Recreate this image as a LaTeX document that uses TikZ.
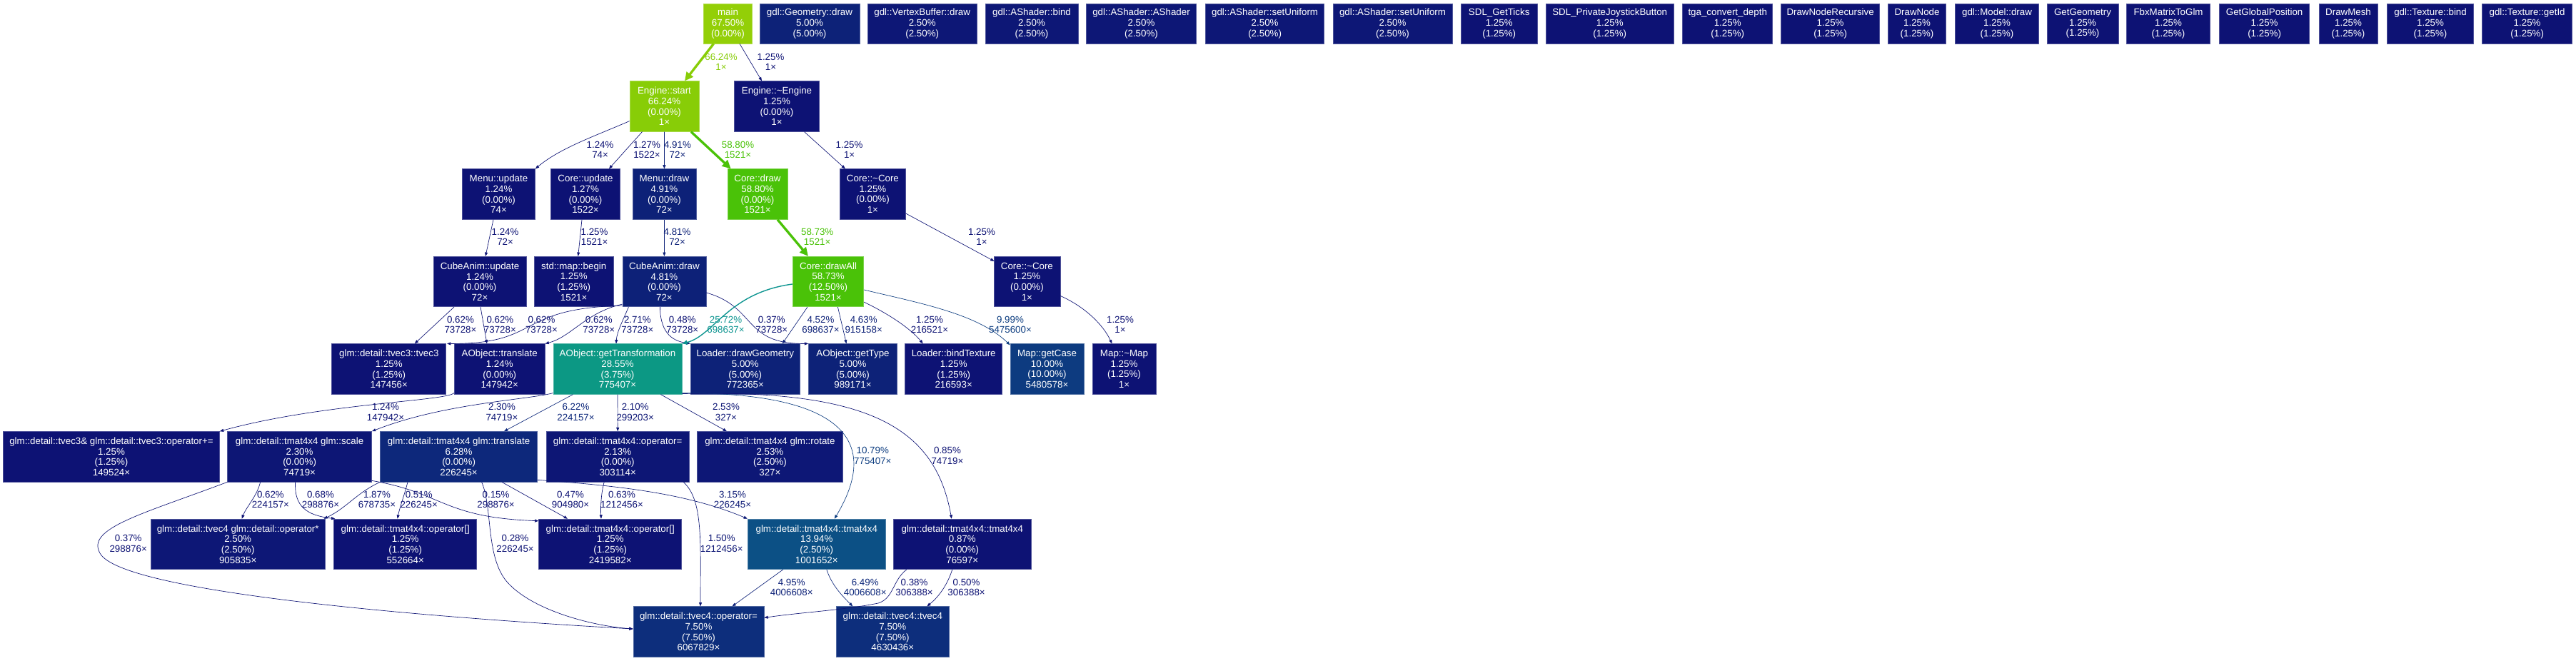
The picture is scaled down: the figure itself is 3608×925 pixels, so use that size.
\documentclass[tikz,border=0pt]{standalone}
\usepackage{fontspec}
\setmainfont{Liberation Sans}
\usetikzlibrary{arrows.meta,calc}
\definecolor{n1}{HTML}{0D1274}
\definecolor{n2}{HTML}{0D1675}
\definecolor{n25}{HTML}{0D1776}
\definecolor{n5b}{HTML}{0D2178}
\definecolor{n5}{HTML}{0D2278}
\definecolor{n6}{HTML}{0D287B}
\definecolor{n75}{HTML}{0D2E7C}
\definecolor{n10}{HTML}{0D3B80}
\definecolor{n14}{HTML}{0C5085}
\definecolor{n28}{HTML}{0C9884}
\definecolor{n58}{HTML}{4AC208}
\definecolor{n66}{HTML}{88CD07}
\definecolor{n67}{HTML}{93CF07}
\definecolor{c1}{HTML}{0D1274}
\definecolor{c2}{HTML}{0D1675}
\definecolor{c3}{HTML}{0D1A76}
\definecolor{c5}{HTML}{0D2178}
\definecolor{c6}{HTML}{0D287B}
\definecolor{c10}{HTML}{0D3D80}
\definecolor{e25}{HTML}{0C9490}
\definecolor{e58}{HTML}{4AC208}
\definecolor{e66}{HTML}{88CD07}
\tikzset{
  fn/.style 2 args={rectangle, fill=#1, draw=#1!72!white, line width=0.5pt, text=white, align=center, inner sep=0pt, minimum width=#2*0.75pt, minimum height=70.5*0.75pt, font=\fontsize{10}{11}\selectfont},
  fnt/.style 2 args={fn={#1}{#2}, minimum height=56*0.75pt},
  lab/.style={text=#1, align=center, inner sep=0pt, font=\fontsize{10}{11}\selectfont},
  ed/.style={draw=#1, line width=0.5pt, -{Triangle[length=4pt,width=3pt]}},
  edmid/.style={draw=#1, line width=1.03pt, -{Triangle[length=5.5pt,width=4.5pt]}},
  edbig/.style={draw=#1, line width=2.5pt, -{Triangle[length=9pt,width=8.5pt]}},
}
\begin{document}
\begin{tikzpicture}[x=0.75pt,y=-0.75pt]
\fill[white] (0,0) rectangle (3608,925);
\useasboundingbox (0,0) rectangle (3608,925);

% top row
\node[fnt={n67}{68}] (main) at (1019.5,33) {main\\67.50\%\\(0.00\%)};
\node[fnt={n5}{140}] (geo) at (1134,33) {gdl::Geometry::draw\\5.00\%\\(5.00\%)};
\node[fnt={n25}{153}] (vbuf) at (1291.7,33) {gdl::VertexBuffer::draw\\2.50\%\\(2.50\%)};
\node[fnt={n25}{130}] (bind) at (1445,33) {gdl::AShader::bind\\2.50\%\\(2.50\%)};
\node[fnt={n25}{154}] (ashader) at (1598.5,33) {gdl::AShader::AShader\\2.50\%\\(2.50\%)};
\node[fnt={n25}{166}] (setua) at (1771.6,33) {gdl::AShader::setUniform\\2.50\%\\(2.50\%)};
\node[fnt={n25}{167}] (setub) at (1950.5,33) {gdl::AShader::setUniform\\2.50\%\\(2.50\%)};
\node[fnt={n1}{107}] (ticks) at (2099.7,33) {SDL\_GetTicks\\1.25\%\\(1.25\%)};
\node[fnt={n1}{179}] (joy) at (2254.7,33) {SDL\_PrivateJoystickButton\\1.25\%\\(1.25\%)};
\node[fnt={n1}{126}] (tga) at (2419.7,33) {tga\_convert\_depth\\1.25\%\\(1.25\%)};
\node[fnt={n1}{138}] (dnr) at (2563.6,33) {DrawNodeRecursive\\1.25\%\\(1.25\%)};
\node[fnt={n1}{81}] (dn) at (2685,33) {DrawNode\\1.25\%\\(1.25\%)};
\node[fnt={n1}{117}] (model) at (2797,33) {gdl::Model::draw\\1.25\%\\(1.25\%)};
\node[fnt={n1}{100}] (getgeo) at (2917,33) {GetGeometry\\1.25\%\\(1.25\%)};
\node[fnt={n1}{117}] (fbx) at (3037,33) {FbxMatrixToGlm\\1.25\%\\(1.25\%)};
\node[fnt={n1}{126}] (ggp) at (3171.6,33) {GetGlobalPosition\\1.25\%\\(1.25\%)};
\node[fnt={n1}{82}] (mesh) at (3289,33) {DrawMesh\\1.25\%\\(1.25\%)};
\node[fnt={n1}{121}] (texbind) at (3404,33) {gdl::Texture::bind\\1.25\%\\(1.25\%)};
\node[fnt={n1}{126}] (texid) at (3539.6,33) {gdl::Texture::getId\\1.25\%\\(1.25\%)};

% row 2
\node[fn={n66}{97}] (start) at (930.5,149) {Engine::start\\66.24\%\\(0.00\%)\\1×};
\node[fn={n1}{119}] (edtor) at (1088,149) {Engine::\textasciitilde Engine\\1.25\%\\(0.00\%)\\1×};

% row 3
\node[fn={n1}{102}] (menuup) at (698.5,272) {Menu::update\\1.24\%\\(0.00\%)\\74×};
\node[fn={n1}{97}] (coreup) at (820,272) {Core::update\\1.27\%\\(0.00\%)\\1522×};
\node[fn={n5b}{89}] (menudraw) at (930.4,272) {Menu::draw\\4.91\%\\(0.00\%)\\72×};
\node[fn={n58}{84}] (coredraw) at (1061,272) {Core::draw\\58.80\%\\(0.00\%)\\1521×};
\node[fn={n1}{92}] (cdtora) at (1222.4,272) {Core::\textasciitilde Core\\1.25\%\\(0.00\%)\\1×};

% row 4
\node[fn={n1}{130}] (cubeup) at (672,394.5) {CubeAnim::update\\1.24\%\\(0.00\%)\\72×};
\node[fn={n1}{111}] (mapbegin) at (803.7,394.5) {std::map::begin\\1.25\%\\(1.25\%)\\1521×};
\node[fn={n5b}{117}] (cubedraw) at (930.4,394.5) {CubeAnim::draw\\4.81\%\\(0.00\%)\\72×};
\node[fn={n58}{99.5}] (drawall) at (1160,394.5) {Core::drawAll\\58.73\%\\(12.50\%)\\1521×};
\node[fn={n1}{93}] (cdtorb) at (1438.4,394.5) {Core::\textasciitilde Core\\1.25\%\\(0.00\%)\\1×};

% row 5
\node[fn={n1}{160}] (tvecthree) at (544.8,517) {glm::detail::tvec3::tvec3\\1.25\%\\(1.25\%)\\147456×};
\node[fn={n1}{127}] (translate) at (699.7,517) {AObject::translate\\1.24\%\\(0.00\%)\\147942×};
\node[fn={n28}{180}] (gettrans) at (865,517) {AObject::getTransformation\\28.55\%\\(3.75\%)\\775407×};
\node[fn={n5}{153.5}] (drawgeo) at (1043.8,517) {Loader::drawGeometry\\5.00\%\\(5.00\%)\\772365×};
\node[fn={n5}{124}] (gettype) at (1194.5,517) {AObject::getType\\5.00\%\\(5.00\%)\\989171×};
\node[fn={n1}{136}] (bindtex) at (1335.7,517) {Loader::bindTexture\\1.25\%\\(1.25\%)\\216593×};
\node[fn={n10}{103}] (getcase) at (1466.5,517) {Map::getCase\\10.00\%\\(10.00\%)\\5480578×};
\node[fn={n1}{89}] (mapdtor) at (1574.5,517) {Map::\textasciitilde Map\\1.25\%\\(1.25\%)\\1×};

% row 6
\node[fn={n1}{303}] (pluseq) at (156,639.8) {glm::detail::tvec3\& glm::detail::tvec3::operator+=\\1.25\%\\(1.25\%)\\149524×};
\node[fn={n2}{202}] (scale) at (419.6,639.8) {glm::detail::tmat4x4 glm::scale\\2.30\%\\(0.00\%)\\74719×};
\node[fn={n6}{220}] (gtrans) at (642.6,639.8) {glm::detail::tmat4x4 glm::translate\\6.28\%\\(0.00\%)\\226245×};
\node[fn={n2}{200}] (opassign) at (865.2,639.8) {glm::detail::tmat4x4::operator=\\2.13\%\\(0.00\%)\\303114×};
\node[fn={n25}{204}] (rotate) at (1078.4,639.8) {glm::detail::tmat4x4 glm::rotate\\2.53\%\\(2.50\%)\\327×};

% row 7
\node[fn={n25}{244}] (opmul) at (333.2,762.3) {glm::detail::tvec4 glm::detail::operator*\\2.50\%\\(2.50\%)\\905835×};
\node[fn={n1}{200}] (opidxa) at (567.7,762.3) {glm::detail::tmat4x4::operator[]\\1.25\%\\(1.25\%)\\552664×};
\node[fn={n1}{200}] (opidxb) at (854.7,762.3) {glm::detail::tmat4x4::operator[]\\1.25\%\\(1.25\%)\\2419582×};
\node[fn={n14}{193}] (tmata) at (1143.8,762.3) {glm::detail::tmat4x4::tmat4x4\\13.94\%\\(2.50\%)\\1001652×};
\node[fn={n1}{193}] (tmatb) at (1347.8,762.3) {glm::detail::tmat4x4::tmat4x4\\0.87\%\\(0.00\%)\\76597×};

% row 8
\node[fn={n75}{183}] (vassign) at (978.5,885) {glm::detail::tvec4::operator=\\7.50\%\\(7.50\%)\\6067829×};
\node[fn={n75}{158.5}] (vctor) at (1250.3,885) {glm::detail::tvec4::tvec4\\7.50\%\\(7.50\%)\\4630436×};

% edges rows 1-4
\draw[edbig=e66] ($(main.south)+(-20,0)$) -- ($(start.north)+(28.5,0)$);
\draw[ed=c1] ($(main.south)+(16.5,0)$) -- ($(edtor.north)+(-21,0)$);
\draw[ed=c1] ($(start.south west)+(0,-15)$) .. controls (835,190) and (785,207) .. (menuup.north east);
\draw[ed=c1] ($(start.south)+(-31,0)$) -- ($(coreup.north)+(33,0)$);
\draw[ed=c5] (start.south) -- (menudraw.north);
\draw[edbig=e58] ($(start.south)+(37.4,0)$) -- ($(coredraw.north)+(-37.3,0)$);
\draw[ed=c1] ($(edtor.south)+(38.5,0)$) -- ($(cdtora.north)+(-38.5,0)$);
\draw[ed=c1] ($(menuup.south)+(-7.5,0)$) -- ($(cubeup.north)+(8,0)$);
\draw[ed=c1] ($(coreup.south)+(-5,0)$) -- ($(mapbegin.north)+(6,0)$);
\draw[ed=c5] (menudraw.south) -- (cubedraw.north);
\draw[edbig=e58] ($(coredraw.south)+(28,0)$) -- ($(drawall.north)+(-28,0)$);
\draw[ed=c1] ($(cdtora.east)+(0,27)$) -- ($(cdtorb.north west)+(1,7)$);
\draw[ed=c1] ($(cdtorb.east)+(0,20)$) .. controls (1520,430) and (1545,455) .. ($(mapdtor.north)+(-17,0)$);

% row 4 -> 5
\draw[ed=c1] ($(cubeup.south)+(-36,0)$) -- ($(tvecthree.north)+(36,0)$);
\draw[ed=c1] ($(cubeup.south)+(1,0)$) -- ($(translate.north)+(-17.7,0)$);
\draw[ed=c1] ($(cubedraw.south west)+(0,-2)$) .. controls (720,432) and (760,482) .. ($(tvecthree.north east)+(1,0)$);
\draw[ed=c1] ($(cubedraw.south west)+(0,-4)$) .. controls (820,438) and (800,472) .. (translate.north east);
\draw[ed=c2] ($(cubedraw.south)+(-50,0)$) .. controls (872,450) and (864,465) .. ($(gettrans.north)+(-2,0)$);
\draw[ed=c1] ($(cubedraw.south)+(-6,0)$) .. controls (925,470) and (945,478) .. (drawgeo.north west);
\draw[ed=c1] ($(cubedraw.east)+(0,15.5)$) .. controls (1060,430) and (1040,482) .. (gettype.north west);
\draw[edmid=e25] ($(drawall.west)+(0,3.5)$) .. controls (1020,410) and (1000,470) .. (gettrans.north east);
\draw[ed=c5] ($(drawall.south)+(-29,0)$) -- ($(drawgeo.north)+(52,0)$);
\draw[ed=c5] ($(drawall.south)+(13.4,0)$) -- ($(gettype.north)+(-9,0)$);
\draw[ed=c1] ($(drawall.south east)+(0,-7)$) .. controls (1245,440) and (1275,460) .. ($(bindtex.north)+(-43,0)$);
\draw[ed=c10] ($(drawall.east)+(0,11.5)$) .. controls (1290,425) and (1370,440) .. ($(getcase.north west)+(0,2)$);

% row 5 -> 6
\draw[ed=c1] ($(translate.south west)+(0,-2)$) .. controls (625,562) and (450,565) .. (pluseq.north east);
\draw[ed=c2] ($(gettrans.south west)+(0,-2)$) .. controls (740,560) and (620,565) .. (scale.north east);
\draw[ed=c6] ($(gettrans.south)+(-62.5,0)$) -- ($(gtrans.north)+(63.4,0)$);
\draw[ed=c2] (gettrans.south) -- (opassign.north);
\draw[ed=c2] ($(gettrans.south)+(60.4,0)$) -- ($(rotate.north)+(-60.5,0)$);
\draw[ed=c10] ($(gettrans.south east)+(0,-2)$) .. controls (1230,550) and (1215,650) .. ($(tmata.north)+(25,0)$);
\draw[ed=c1] ($(gettrans.south east)+(0,-1)$) .. controls (1220,545) and (1310,600) .. ($(tmatb.north)+(-15,0)$);

% row 6 -> 7
\draw[ed=c1] ($(scale.south)+(-55,0)$) .. controls (360,695) and (345,710) .. ($(opmul.north)+(5.5,0)$);
\draw[ed=c1] ($(scale.south)+(-6,0)$) .. controls (412,710) and (430,722) .. ($(opidxa.north west)+(2,0)$);
\draw[ed=c2] (gtrans.south west) .. controls (500,690) and (485,712) .. ($(opmul.north east)+(-2,0)$);
\draw[ed=c1] ($(gtrans.south)+(-71.6,0)$) .. controls (566,695) and (560,710) .. ($(opidxa.north)+(-11,0)$);
\draw[ed=c1] ($(scale.south east)+(0,-2)$) .. controls (620,690) and (620,725) .. ($(opidxb.north west)+(0,3)$);
\draw[ed=c1] ($(gtrans.south)+(60.4,0)$) -- ($(opidxb.north)+(-59.7,0)$);
\draw[ed=c1] (scale.south west) .. controls (200,720) and (120,740) .. (140,775) .. controls (170,830) and (600,865) .. ($(vassign.west)+(0,-4)$);
\draw[ed=c1] ($(gtrans.south)+(32,0)$) .. controls (690,710) and (680,780) .. (710,815) .. controls (745,855) and (830,877) .. ($(vassign.west)+(0,-4)$);
\draw[ed=c3] ($(gtrans.south east)+(0,-3)$) .. controls (860,680) and (960,690) .. (tmata.north west);
\draw[ed=c1] ($(opassign.south)+(-19,0)$) .. controls (842,690) and (841,710) .. ($(opidxb.north)+(-12.7,0)$);
\draw[ed=c2] ($(opassign.south)+(92,0)$) .. controls (985,700) and (981,760) .. ($(vassign.north)+(2.5,0)$);

% row 7 -> 8
\draw[ed=c5] ($(tmata.south)+(-47,0)$) -- ($(vassign.north)+(47,0)$);
\draw[ed=c6] ($(tmata.south)+(14,0)$) .. controls (1165,820) and (1180,835) .. ($(vctor.north)+(-56,0)$);
\draw[ed=c1] ($(tmatb.south)+(-78,0)$) .. controls (1250,813) and (1252,838) .. (1230,845) .. controls (1180,855) and (1120,858) .. ($(vassign.north east)+(0,16)$);
\draw[ed=c1] ($(tmatb.south)+(-14,0)$) .. controls (1325,825) and (1310,840) .. ($(vctor.north)+(48,0)$);

% labels
\node[lab=e66] (la) at (1010,87) {66.24\%\\1×};
\node[lab=c1] (lb) at (1079.5,87) {1.25\%\\1×};
\node[lab=c1] (lc) at (840.6,210) {1.24\%\\74×};
\node[lab=c1] (ld) at (906,210) {1.27\%\\1522×};
\node[lab=c5] (le) at (949,210) {4.91\%\\72×};
\node[lab=e58] (lf) at (1033.5,210) {58.80\%\\1521×};
\node[lab=c1] (lg) at (1189.6,210) {1.25\%\\1×};
\node[lab=c1] (lh) at (707.6,332) {1.24\%\\72×};
\node[lab=c1] (li) at (832.6,332) {1.25\%\\1521×};
\node[lab=c5] (lj) at (948.6,332) {4.81\%\\72×};
\node[lab=e58] (lk) at (1144.7,332) {58.73\%\\1521×};
\node[lab=c1] (ll) at (1375,332) {1.25\%\\1×};
\node[lab=c1] (lm) at (1569,455) {1.25\%\\1×};
\node[lab=c1] (ln) at (645,455) {0.62\%\\73728×};
\node[lab=c1] (lo) at (700.4,455) {0.62\%\\73728×};
\node[lab=c1] (lp) at (758.5,455) {0.62\%\\73728×};
\node[lab=c1] (lq) at (838.8,455) {0.62\%\\73728×};
\node[lab=c2] (lr) at (892.9,455) {2.71\%\\73728×};
\node[lab=c1] (ls) at (955.8,455) {0.48\%\\73728×};
\node[lab=e25] (lt) at (1016.5,455) {25.72\%\\698637×};
\node[lab=c1] (lu) at (1080.8,455) {0.37\%\\73728×};
\node[lab=c5] (lv) at (1149.5,455) {4.52\%\\698637×};
\node[lab=c5] (lw) at (1209.7,455) {4.63\%\\915158×};
\node[lab=c1] (lx) at (1302,455) {1.25\%\\216521×};
\node[lab=c10] (ly) at (1415,455) {9.99\%\\5475600×};
\node[lab=c1] (lz) at (540,577.7) {1.24\%\\147942×};
\node[lab=c2] (maa) at (703,577.7) {2.30\%\\74719×};
\node[lab=c6] (mab) at (806.5,577.7) {6.22\%\\224157×};
\node[lab=c2] (mac) at (889.7,577.7) {2.10\%\\299203×};
\node[lab=c2] (mad) at (1017,577.7) {2.53\%\\327×};
\node[lab=c10] (mae) at (1222.3,638.7) {10.79\%\\775407×};
\node[lab=c1] (maf) at (1327,638.7) {0.85\%\\74719×};
\node[lab=c1] (mag) at (378.9,700) {0.62\%\\224157×};
\node[lab=c1] (mah) at (449,700) {0.68\%\\298876×};
\node[lab=c2] (mai) at (528,700) {1.87\%\\678735×};
\node[lab=c1] (maj) at (586.7,700) {0.51\%\\226245×};
\node[lab=c1] (mak) at (694.6,700) {0.15\%\\298876×};
\node[lab=c1] (mal) at (799,700) {0.47\%\\904980×};
\node[lab=c1] (mam) at (179.7,761.5) {0.37\%\\298876×};
\node[lab=c1] (man) at (721.6,761.5) {0.28\%\\226245×};
\node[lab=c3] (mao) at (1026,700) {3.15\%\\226245×};
\node[lab=c1] (map) at (871,700) {0.63\%\\1212456×};
\node[lab=c2] (maq) at (1010.7,761.5) {1.50\%\\1212456×};
\node[lab=c5] (mar) at (1108.7,823) {4.95\%\\4006608×};
\node[lab=c6] (mas) at (1211.7,823) {6.49\%\\4006608×};
\node[lab=c1] (mat) at (1280.6,823) {0.38\%\\306388×};
\node[lab=c1] (mau) at (1353.6,823) {0.50\%\\306388×};
\end{tikzpicture}
\end{document}
